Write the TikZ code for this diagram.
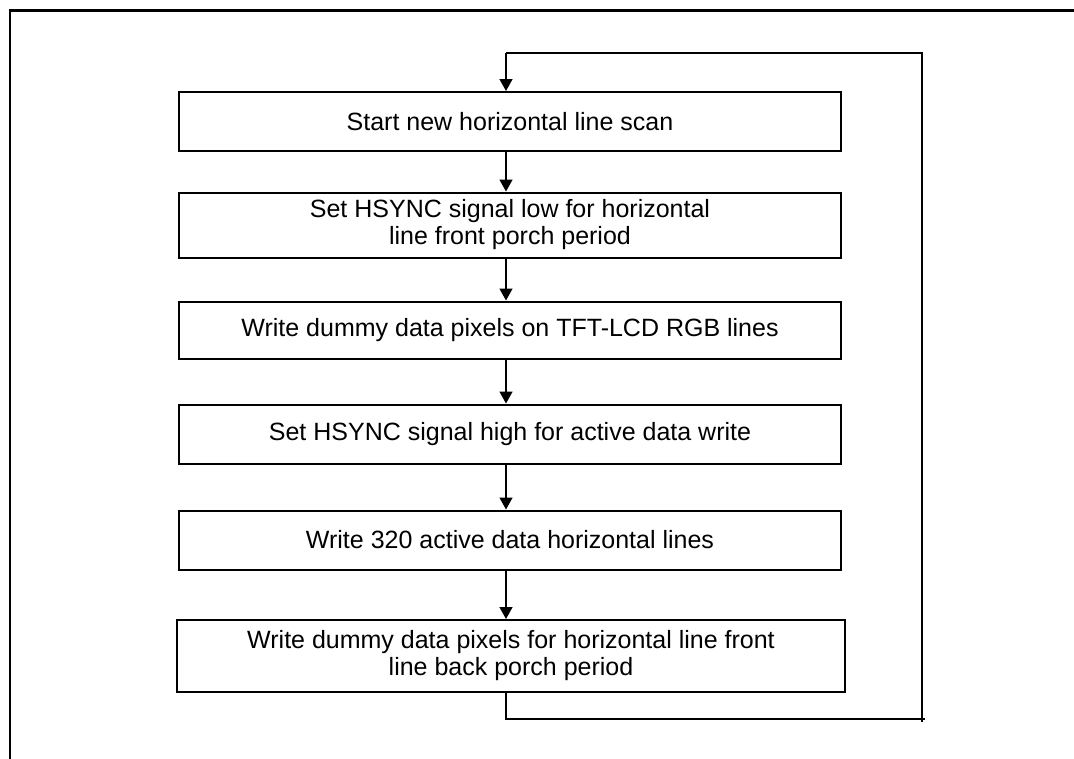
\documentclass[tikz,border=0pt]{standalone}
\usepackage{fontspec}
\setmainfont{Liberation Sans}
\usetikzlibrary{arrows.meta, positioning}

\begin{document}
\begin{tikzpicture}[
                x=1pt, y=-1pt,
                line join=miter,
                stepbox/.style={shape=rectangle, draw=black, line width=2pt, align=center,
                    inner sep=0pt, font=\fontsize{25}{27}\selectfont},
                flow/.style={line width=1.5pt, -{Triangle[width=13pt, length=12pt]}},
                loopline/.style={line width=1.5pt}
            ]
                \useasboundingbox (0, 0) rectangle (1074, 758);

                % Frame
                \draw[line width=2.5pt] (10, 770) -- (10, 10.5) -- (1090, 10.5);

                % Steps
                \node[stepbox, minimum width=662pt, minimum height=59pt] (start) at (510, 121.5) {Start new horizontal line scan};
                \node[stepbox, minimum width=662pt, minimum height=65pt] (hlow) at (510, 225) {Set HSYNC signal low for horizontal\\line front porch period};
                \node[stepbox, minimum width=662pt, minimum height=57pt] (dummy) at (510, 330) {Write dummy data pixels on TFT-LCD RGB lines};
                \node[stepbox, minimum width=662pt, minimum height=59pt] (hhigh) at (510, 434) {Set HSYNC signal high for active data write};
                \node[stepbox, minimum width=662pt, minimum height=59pt] (active) at (510, 540) {Write 320 active data horizontal lines};
                \node[stepbox, minimum width=668pt, minimum height=72pt] (back) at (511, 656) {Write dummy data pixels for horizontal line front\\line back porch period};

                % Arrows
                \coordinate (ax) at (506, 0);
                \foreach \a/\b in {start/hlow, hlow/dummy, dummy/hhigh, hhigh/active, active/back} {
                \draw[flow] (\a.south -| ax) -- (\b.north -| ax);
            }

            % Loop back
            \coordinate (loopbl) at (506, 719);
            \coordinate (loopbr) at (925, 719);
            \coordinate (loopdown) at (922, 722);
            \coordinate (looptr) at (922, 53);
            \coordinate (looptl) at (506, 53);
            \draw[loopline] (back.south -| ax) -- (loopbl) -- (loopbr);
            \draw[loopline] (loopdown) -- (looptr) -- (looptl);
            \draw[flow] (looptl) -- (start.north -| ax);
            \end{tikzpicture}
\end{document}
